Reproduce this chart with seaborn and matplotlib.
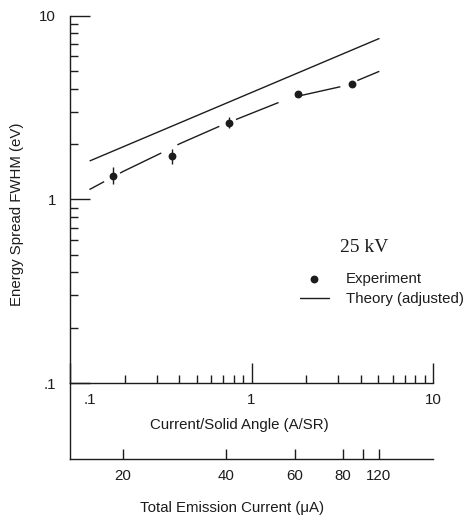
import matplotlib.pyplot as plt
import matplotlib.ticker as mticker
import seaborn as sns

# experiment at 25 kV, current/solid angle (A/SR) vs energy spread (eV)
exp_current = [0.173, 0.365, 0.752, 1.80, 3.58]
exp_spread = [1.34, 1.73, 2.61, 3.76, 4.26]
exp_low = [1.21, 1.56, 2.45, 3.76, 4.26]
exp_high = [1.50, 1.88, 2.82, 3.76, 4.26]

# adjusted theory (straight in log-log)
theory_current = [0.129, 5.04]
theory_spread = [1.62, 7.49]

# dashed curve through the experiment
fit_current = [0.128, 0.197, 0.320, 0.404, 0.699, 1.63, 3.27, 5.06]
fit_spread = [1.13, 1.42, 1.79, 2.01, 2.55, 3.56, 4.15, 4.97]

# total emission current scale, placed at the matching current/solid angle
emission_labels = ["20", "40", "60", "80", "", "120"]
emission_at = [0.196, 0.724, 1.737, 3.19, 4.11, 5.04]

sns.set_style("ticks")
plt.rcParams["font.family"] = ["Liberation Sans", "DejaVu Sans"]
ink = "#1c1c1c"
fs = 10.8

fig = plt.figure(figsize=(4.64, 5.18), dpi=100)
ax = fig.add_axes([0.1509, 0.2606, 0.7823, 0.7094])
ax2 = fig.add_axes([0.1509, 0.1139, 0.7823, 0.1467])
ax2.patch.set_visible(False)

ax.set_xscale("log")
ax.set_yscale("log")

sns.lineplot(x=theory_current, y=theory_spread, color=ink, lw=1.0,
             sort=False, ax=ax, label="Theory (adjusted)")
sns.lineplot(x=fit_current, y=fit_spread, color=ink, lw=1.0,
             linestyle=(21, (33, 13)), sort=False, ax=ax)
ax.vlines(exp_current, exp_low, exp_high, color=ink, lw=1.0)
sns.scatterplot(x=exp_current, y=exp_spread, color=ink, s=32, linewidth=0,
                zorder=3, ax=ax, label="Experiment")

ax.set_xlim(0.1, 10)
ax.set_ylim(0.1, 10)
ax.set_xticks([0.1, 1, 10], ["", "1", "10"])
ax.set_yticks([0.1, 1, 10], [".1", "1", "10"])
for axis in (ax.xaxis, ax.yaxis):
    axis.set_minor_locator(mticker.LogLocator(base=10, subs=range(2, 10)))
    axis.set_minor_formatter(mticker.NullFormatter())
ax.tick_params(which="major", direction="in", length=14.4, width=1.0,
               color=ink, labelcolor=ink, labelsize=fs, pad=7)
ax.tick_params(which="minor", direction="in", length=5.8, width=1.0, color=ink)
ax.tick_params(axis="y", pad=10)
sns.despine(ax=ax)
for sp in ax.spines.values():
    sp.set_linewidth(1.0)
    sp.set_color(ink)

# ".1" sits just inside the corner
ax.annotate(".1", xy=(0.1, 0), xycoords=("data", "axes fraction"),
            xytext=(9.5, -7), textcoords="offset points",
            ha="left", va="top", fontsize=fs, color=ink)

ax.set_xlabel("Current/Solid Angle (A/SR)", fontsize=fs, color=ink)
ax.xaxis.set_label_coords(0.466, -0.095)
ax.set_ylabel("Energy Spread FWHM (eV)", fontsize=fs, color=ink)
ax.yaxis.set_label_coords(-0.127, 0.46)

ax.text(0.744, 0.370, "25 kV", transform=ax.transAxes, ha="left", va="center",
        fontsize=14, color=ink, family="Liberation Serif")
handles, labels = ax.get_legend_handles_labels()
order = dict(zip(labels, handles))
ax.legend([order["Experiment"], order["Theory (adjusted)"]],
          ["Experiment", "Theory (adjusted)"],
          loc="center left", bbox_to_anchor=(0.634, 0.256), frameon=False,
          fontsize=fs, handlelength=1.9, handletextpad=1.15, labelspacing=0.45,
          borderpad=0, borderaxespad=0, labelcolor=ink)

# lower scale: total emission current
ax2.set_xscale("log")
ax2.set_xlim(0.1, 10)
ax2.set_xticks(emission_at, emission_labels)
ax2.xaxis.set_minor_locator(mticker.NullLocator())
ax2.set_yticks([])
ax2.tick_params(axis="x", direction="in", length=7.5, width=1.0, pad=7,
                color=ink, labelcolor=ink, labelsize=fs)
sns.despine(ax=ax2)
for sp in ax2.spines.values():
    sp.set_linewidth(1.0)
    sp.set_color(ink)
ax2.set_xlabel("Total Emission Current (μA)", fontsize=fs, color=ink)
ax2.xaxis.set_label_coords(0.446, -0.55)

fig.savefig("out.png", dpi=100)
plt.close(fig)
